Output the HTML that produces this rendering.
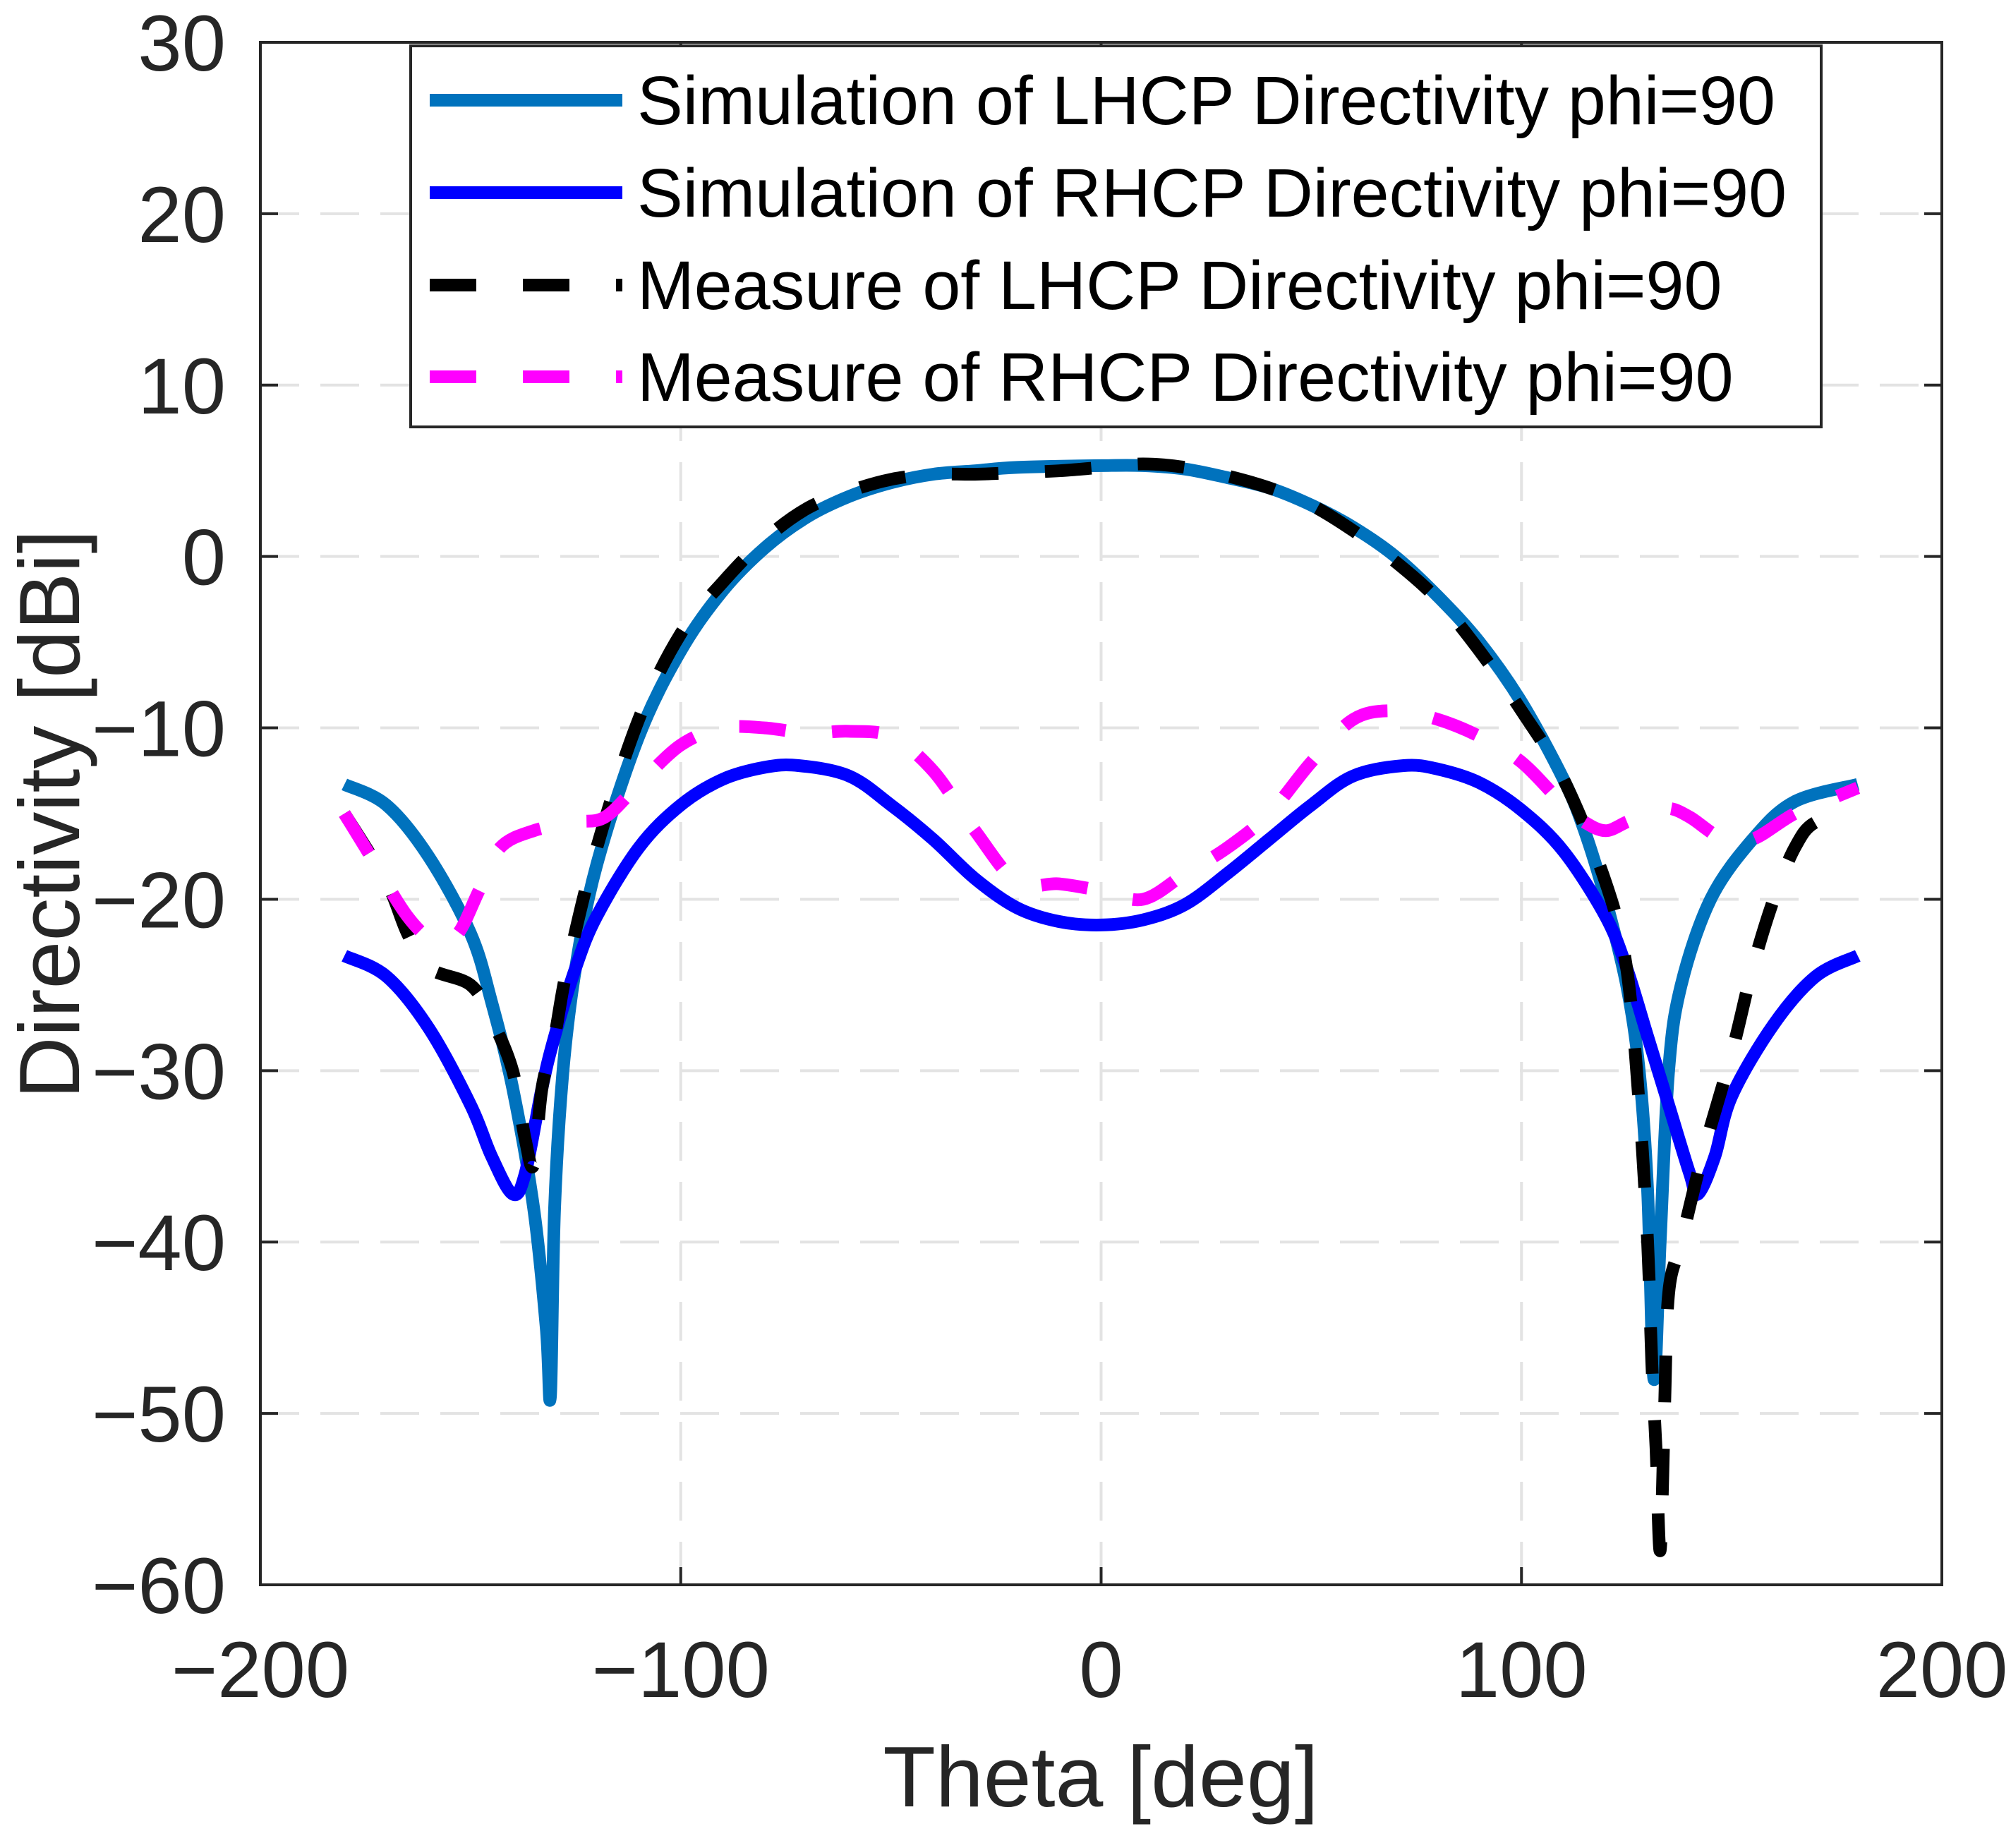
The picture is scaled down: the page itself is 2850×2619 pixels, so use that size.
<!DOCTYPE html>
<html><head><meta charset="utf-8"><style>
html,body{margin:0;padding:0;background:#fff;}
svg{display:block;font-family:"Liberation Sans",Arial,sans-serif;}
</style></head><body>
<svg id="chart" width="2850" height="2619" viewBox="0 0 2850 2619" xmlns="http://www.w3.org/2000/svg">
<rect width="2850" height="2619" fill="#fff"/>
<g id="grid"></g>
<g id="series"></g>
<g id="axes"></g>
<text x="1560" y="2560" font-size="122" text-anchor="middle" fill="#262626">Theta [deg]</text>
<text transform="translate(112,1154) rotate(-90)" font-size="122" text-anchor="middle" fill="#262626">Directivity [dBi]</text>
<g id="legend"></g>
</svg>
<script>
const xTicks=[-200,-100,0,100,200];
const yTicks=[30,20,10,0,-10,-20,-30,-40,-50,-60];
const simLhcpX=[-180,-170,-160,-150,-145,-140,-135,-132,-131,-130,-128,-125,-120,-110,-100,-90,-80,-70,-60,-50,-40,-30,-20,0,10,20,30,40,50,60,70,80,90,100,110,115,120,125,128,130,131.5,133,135,138,145,155,165,180];
const simLhcpY=[-13.3,-14.5,-17.5,-22,-26,-31,-38,-45,-49,-38,-30,-24,-18,-10.5,-5.5,-2,0.5,2.3,3.5,4.3,4.8,5.0,5.2,5.3,5.3,5.1,4.6,4,3,1.7,0,-2.3,-5,-8.5,-13,-16,-20,-25,-30,-37,-48,-40,-30,-25,-20,-16.5,-14.3,-13.3];
const simRhcpX=[-180,-170,-160,-150,-145,-140,-137,-133,-130,-125,-120,-110,-100,-90,-80,-72,-60,-50,-40,-30,-20,-10,0,10,20,30,40,50,60,72,80,90,100,110,120,125,130,135,140,142,146,150,160,170,180];
const simRhcpY=[-23.3,-24.5,-27.5,-32,-35,-37.2,-36,-31,-28,-24,-21,-17,-14.5,-13,-12.3,-12.2,-12.8,-14.5,-16.5,-18.8,-20.5,-21.3,-21.5,-21.2,-20.3,-18.5,-16.5,-14.5,-12.8,-12.2,-12.4,-13.2,-14.8,-17.2,-21,-24,-28,-32,-36,-37.2,-35,-31.5,-27.3,-24.5,-23.3];
const measLhcpX=[-180,-170,-165,-160,-150,-145,-140,-137,-135,-133,-130,-127,-120,-110,-100,-90,-80,-70,-60,-50,-40,-30,-20,-10,0,10,20,30,40,50,60,70,80,90,100,110,120,125,128,130,131,132,133,134,135,138,143,150,155,160,165,170,180];
const measLhcpY=[-15,-19,-22,-24,-25,-27,-30,-34,-35.5,-31,-28,-24,-17,-9.5,-4.5,-1.5,1,2.8,3.8,4.5,4.8,4.8,4.9,5,5.2,5.4,5.2,4.7,4,3,1.5,-0.3,-2.5,-5.5,-9,-13,-19,-24,-32,-40,-47,-52,-58,-50,-43,-40,-35,-29,-24,-20,-17,-15.5,-15];
const measRhcpX=[-180,-175,-165,-158,-153,-148,-143,-135,-125,-118,-110,-100,-90,-80,-70,-60,-50,-40,-30,-20,-10,0,10,20,30,40,50,60,70,80,90,100,110,115,120,125,130,135,140,148,155,165,175,180];
const measRhcpY=[-15,-17,-21,-22.5,-22,-19.5,-17,-16,-15.5,-15.2,-13.3,-11,-10,-10,-10.3,-10.2,-10.5,-12.5,-16,-19,-19.1,-19.5,-20,-18.5,-17,-15,-12,-9.5,-9,-9.5,-10.5,-12,-14.5,-15.5,-16,-15.5,-15,-14.7,-15.2,-16.5,-16.5,-15,-14,-13.5];
const legendLabels=["Simulation of LHCP Directivity phi=90","Simulation of RHCP Directivity phi=90","Measure of LHCP Directivity phi=90","Measure of RHCP Directivity phi=90"];

const L=369,R=2752,T=60,B=2246;
const sx=v=>L+(v+200)/400*(R-L);
const sy=v=>T+(30-v)/90*(B-T);
const NS="http://www.w3.org/2000/svg";
function mk(tag,parent){const e=document.createElementNS(NS,tag);parent.appendChild(e);return e;}
function smoothPath(xs,ys){
  const p=xs.map((x,i)=>[sx(x),sy(ys[i])]);
  let d='M'+p[0][0].toFixed(1)+','+p[0][1].toFixed(1);
  for(let i=0;i<p.length-1;i++){
    const p0=p[Math.max(0,i-1)],p1=p[i],p2=p[i+1],p3=p[Math.min(p.length-1,i+2)];
    const t=0.25;
    const c1=[p1[0]+(p2[0]-p0[0])*t/1.5,p1[1]+(p2[1]-p0[1])*t/1.5];
    const c2=[p2[0]-(p3[0]-p1[0])*t/1.5,p2[1]-(p3[1]-p1[1])*t/1.5];
    d+=' C'+c1[0].toFixed(1)+','+c1[1].toFixed(1)+' '+c2[0].toFixed(1)+','+c2[1].toFixed(1)+' '+p2[0].toFixed(1)+','+p2[1].toFixed(1);
  }
  return d;
}
const grid=document.getElementById('grid'),axes=document.getElementById('axes'),series=document.getElementById('series'),legend=document.getElementById('legend');

xTicks.forEach(t=>{
  const x=sx(t);
  if(t>-200&&t<200){const g=mk('line',grid);
  
  
  g.setAttribute('x1',x);g.setAttribute('x2',x);g.setAttribute('y1',T);g.setAttribute('y2',B);g.setAttribute('stroke','#e3e3e3');g.setAttribute('stroke-width','4');g.setAttribute('stroke-dasharray','55 30');}
  [[B,B-25],[T,T+25]].forEach(p=>{const k=mk('line',axes);
  
  
  k.setAttribute('x1',x);k.setAttribute('x2',x);k.setAttribute('y1',p[0]);k.setAttribute('y2',p[1]);k.setAttribute('stroke','#262626');k.setAttribute('stroke-width','4');});
  const tx=mk('text',axes);
  
  
  tx.setAttribute('x',x);tx.setAttribute('y',2405);tx.setAttribute('font-size','112');tx.setAttribute('text-anchor','middle');tx.setAttribute('fill','#262626');
  tx.textContent=(t<0?'\u2212'+(-t):String(t));
});
yTicks.forEach(t=>{
  const y=sy(t);
  if(t<30&&t>-60){const g=mk('line',grid);
  
  
  g.setAttribute('x1',L);g.setAttribute('x2',R);g.setAttribute('y1',y);g.setAttribute('y2',y);g.setAttribute('stroke','#e3e3e3');g.setAttribute('stroke-width','4');g.setAttribute('stroke-dasharray','55 30');}
  [[L,L+25],[R,R-25]].forEach(p=>{const k=mk('line',axes);
  
  
  k.setAttribute('x1',p[0]);k.setAttribute('x2',p[1]);k.setAttribute('y1',y);k.setAttribute('y2',y);k.setAttribute('stroke','#262626');k.setAttribute('stroke-width','4');});
  const tx=mk('text',axes);
  
  
  tx.setAttribute('x',320);tx.setAttribute('y',y+40);tx.setAttribute('font-size','112');tx.setAttribute('text-anchor','end');tx.setAttribute('fill','#262626');
  tx.textContent=(t<0?'\u2212'+(-t):String(t));
});
const box=mk('rect',axes);


box.setAttribute('x',L);box.setAttribute('y',T);box.setAttribute('width',R-L);box.setAttribute('height',B-T);box.setAttribute('fill','none');box.setAttribute('stroke','#262626');box.setAttribute('stroke-width','4');

const defs=[
 {xs:simLhcpX,ys:simLhcpY,c:'#0072BD',d:null,n:'sim-lhcp-line'},
 {xs:simRhcpX,ys:simRhcpY,c:'#0000FF',d:null,n:'sim-rhcp-line'},
 {xs:measLhcpX,ys:measLhcpY,c:'#000000',d:'66 66',n:'meas-lhcp-line'},
 {xs:measRhcpX,ys:measRhcpY,c:'#FF00FF',d:'66 66',n:'meas-rhcp-line'}];
defs.forEach(s=>{
  const p=mk('path',series);
  
  
  p.setAttribute('d',smoothPath(s.xs,s.ys));
  p.setAttribute('fill','none');p.setAttribute('stroke',s.c);p.setAttribute('stroke-width','18');p.setAttribute('stroke-linejoin','round');
  if(s.d)p.setAttribute('stroke-dasharray',s.d);
});

const lb=mk('rect',legend);


lb.setAttribute('x',582);lb.setAttribute('y',65);lb.setAttribute('width',1999);lb.setAttribute('height',540);lb.setAttribute('fill','#fff');lb.setAttribute('stroke','#262626');lb.setAttribute('stroke-width','4');
const ly=[142,273,404,534];
defs.forEach((s,i)=>{
  const l=mk('line',legend);
  
  
  l.setAttribute('x1',609);l.setAttribute('x2',882);l.setAttribute('y1',ly[i]);l.setAttribute('y2',ly[i]);l.setAttribute('stroke',s.c);l.setAttribute('stroke-width','18');
  if(s.d)l.setAttribute('stroke-dasharray',s.d);
  const t=mk('text',legend);
  
  
  t.setAttribute('x',903);t.setAttribute('y',ly[i]+34);t.setAttribute('font-size','97');t.setAttribute('fill','#000');
  t.textContent=legendLabels[i];
});
</script>
</body></html>
